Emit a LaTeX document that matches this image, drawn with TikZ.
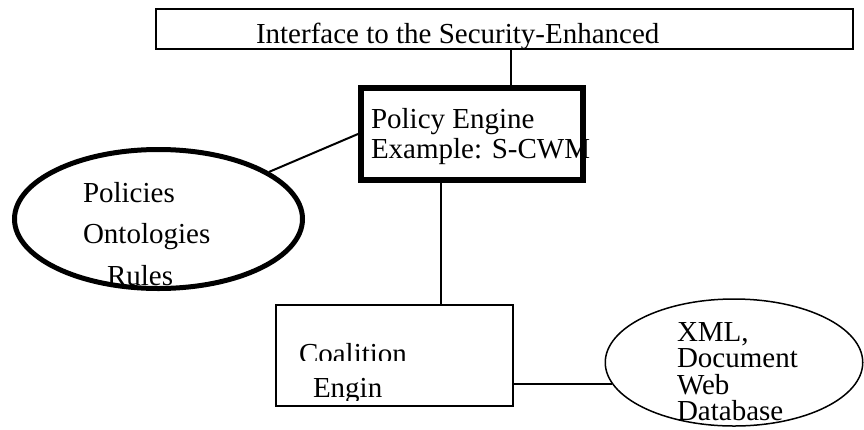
\documentclass[tikz,border=0pt]{standalone}
\usepackage{fontspec}
\setmainfont{Liberation Serif}
\usetikzlibrary{shapes.geometric}
\begin{document}
\begin{tikzpicture}[x=1pt,y=-1pt,
  lbl/.style={anchor=base west, inner sep=0pt, outer sep=0pt,
    font=\fontsize{29}{29}\selectfont},
  plainbox/.style={draw, line width=2pt, inner sep=0pt, minimum width=#1},
  boldbox/.style={draw, line width=6pt, inner sep=0pt},
  link/.style={line width=2pt}]
\useasboundingbox (0,0) rectangle (864,429);

% interface bar along the top
\node[plainbox=697pt, minimum height=40pt] (iface) at (504.5,29) {};
\node[lbl] (ifacetxt) at (256,43) {Interface to the Security-Enhanced};

% policy engine
\node[boldbox, minimum width=222pt, minimum height=92pt] (policy) at (472,134) {};
\node[lbl] (poltxt1) at (371,128) {Policy Engine};
\node[lbl] (poltxt2) at (371,158) {Example: S-CWM};

% policy store
\node[ellipse, draw, line width=5pt, inner sep=0pt,
  minimum width=288pt, minimum height=139pt] (store) at (158.5,219) {};
\node[lbl] (st1) at (83,202) {Policies};
\node[lbl] (st2) at (83,243) {Ontologies};
\node[lbl] (st3) at (107,285) {Rules};

% coalition engine
\node[plainbox=237pt, minimum height=101pt] (coal) at (394.5,355.5) {};
\begin{scope}
  \clip (276,300) rectangle (513,360.5);
  \node[lbl] (coal1) at (299,363) {Coalition};
\end{scope}
\begin{scope}
  \clip (276,360) rectangle (513,400.5);
  \node[lbl] (coal2) at (313,397) {Engin};
\end{scope}

% data sources
\node[ellipse, draw, line width=1.5pt, inner sep=0pt,
  minimum width=257.5pt, minimum height=127pt] (data) at (734,362.5) {};
\node[lbl] (d1) at (677,341) {XML,};
\node[lbl] (d2) at (677,367) {Document};
\node[lbl] (d3) at (677,394) {Web};
\node[lbl] (d4) at (677,420) {Database};

% connectors
\coordinate (upx) at (511,0);
\coordinate (dnx) at (441,0);
\draw[link] (iface.south -| upx) -- (policy.north -| upx);
\draw[link] (policy.west) -- (store);
\draw[link] (policy.south -| dnx) -- (coal.north -| dnx);
\draw[link] (data.190) -- (data.190 -| coal.east);
\end{tikzpicture}
\end{document}
